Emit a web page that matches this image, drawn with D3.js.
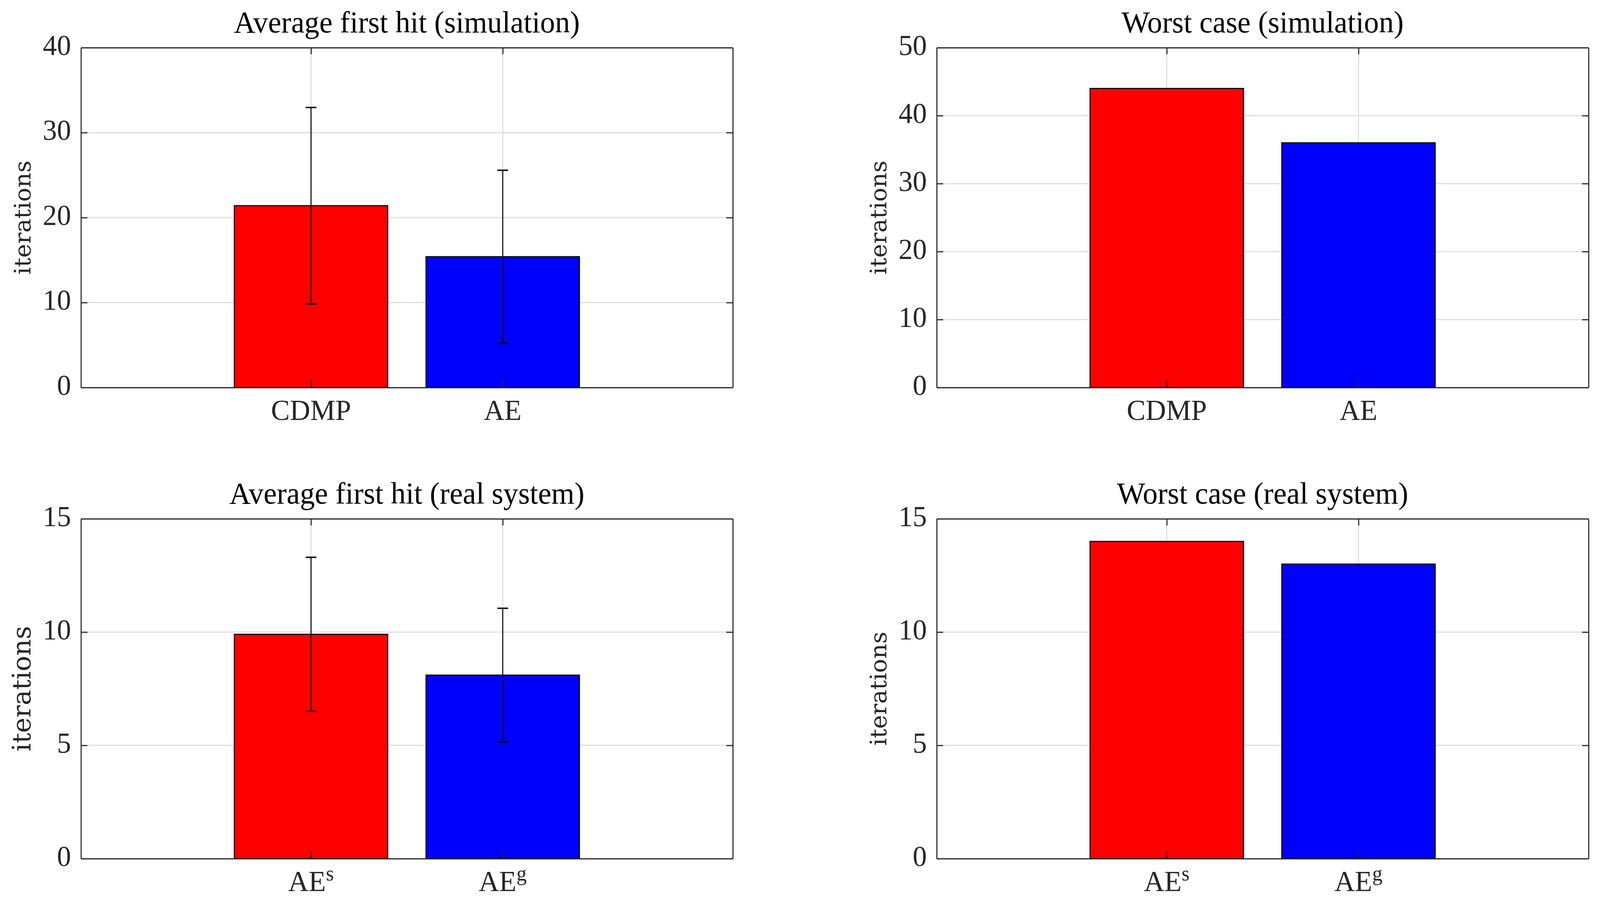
<!DOCTYPE html>
<html>
<head>
<meta charset="utf-8">
<script src="https://cdn.jsdelivr.net/npm/d3@7"></script>
<style>
  html, body { margin: 0; padding: 0; width: 100%; height: 100%; overflow: hidden; background: #fff; }
  #chart { width: 100%; height: 100%; }
  svg { display: block; }
</style>
</head>
<body>
<div id="chart"></div>
<script>
'use strict';

// data
var simCategories = ['CDMP', 'AE'];
var realCategories = [['AE', 's'], ['AE', 'g']];

var avgSimMean = [21.4, 15.4];
var avgSimErr = [11.56, 10.17];
var worstSimValues = [44, 36];

var avgRealMean = [9.9, 8.1];
var avgRealErr = [3.4, 2.95];
var worstRealValues = [14, 13];

var avgSimTicks = [0, 10, 20, 30, 40];
var worstSimTicks = [0, 10, 20, 30, 40, 50];
var realTicks = [0, 5, 10, 15];

var barColors = ['#ff0000', '#0000ff'];

var panels = [
  { title: 'Average first hit (simulation)', labels: simCategories, values: avgSimMean, errors: avgSimErr,
    ticks: avgSimTicks, ymax: 40, col: 0, row: 0, ylabelSize: 60 },
  { title: 'Worst case (simulation)', labels: simCategories, values: worstSimValues, errors: null,
    ticks: worstSimTicks, ymax: 50, col: 1, row: 0, ylabelSize: 60 },
  { title: 'Average first hit (real system)', labels: realCategories, values: avgRealMean, errors: avgRealErr,
    ticks: realTicks, ymax: 15, col: 0, row: 1, ylabelSize: 66 },
  { title: 'Worst case (real system)', labels: realCategories, values: worstRealValues, errors: null,
    ticks: realTicks, ymax: 15, col: 1, row: 1, ylabelSize: 60 }
];

var W = 4190, H = 2309;
var colX = [212, 2453];
var rowY = [122, 1328];
var plotW = 1707, plotH = 870;
var axisColor = '#262626';
var gridColor = '#dfdfdf';
var serif = '"Liberation Serif", "Times New Roman", serif';
var tickLen = 17;

// fit the whole figure into whatever viewport we get
var svg = d3.select('#chart').append('svg')
  .attr('width', '100%')
  .attr('height', '100%')
  .attr('viewBox', '0 0 ' + W + ' ' + H)
  .attr('preserveAspectRatio', 'none');

svg.append('rect')
  .attr('width', W)
  .attr('height', H)
  .attr('fill', 'white');

function drawPanel(p) {
  var g = svg.append('g')
    .attr('transform', 'translate(' + colX[p.col] + ',' + rowY[p.row] + ')');

  var x = d3.scaleLinear().domain([-0.2, 3.2]).range([0, plotW]);
  var y = d3.scaleLinear().domain([0, p.ymax]).range([plotH, 0]);
  var cats = [1, 2];
  var barW = x(0.8) - x(0);

  // grid
  g.append('g').selectAll('line.hgrid')
    .data(p.ticks.slice(1, -1))
    .enter().append('line')
    .attr('x1', 0).attr('x2', plotW)
    .attr('y1', function(d) { return y(d); })
    .attr('y2', function(d) { return y(d); })
    .attr('stroke', gridColor)
    .attr('stroke-width', 3);
  g.append('g').selectAll('line.vgrid')
    .data(cats)
    .enter().append('line')
    .attr('y1', 0).attr('y2', plotH)
    .attr('x1', function(d) { return x(d); })
    .attr('x2', function(d) { return x(d); })
    .attr('stroke', gridColor)
    .attr('stroke-width', 3);

  // bars
  g.append('g').selectAll('rect')
    .data(p.values)
    .enter().append('rect')
    .attr('x', function(d, i) { return x(cats[i]) - barW / 2; })
    .attr('y', function(d) { return y(d); })
    .attr('width', barW)
    .attr('height', function(d) { return plotH - y(d); })
    .attr('fill', function(d, i) { return barColors[i]; })
    .attr('stroke', 'black')
    .attr('stroke-width', 2.8);

  // error bars
  if (p.errors) {
    var capW = x(0.028) - x(0);
    var eb = g.append('g').selectAll('g')
      .data(p.values)
      .enter().append('g')
      .attr('stroke', 'black')
      .attr('stroke-width', 2.6);
    eb.append('line')
      .attr('x1', function(d, i) { return x(cats[i]); })
      .attr('x2', function(d, i) { return x(cats[i]); })
      .attr('y1', function(d, i) { return y(d - p.errors[i]); })
      .attr('y2', function(d, i) { return y(d + p.errors[i]); });
    eb.append('line')
      .attr('x1', function(d, i) { return x(cats[i]) - capW; })
      .attr('x2', function(d, i) { return x(cats[i]) + capW; })
      .attr('y1', function(d, i) { return y(d + p.errors[i]); })
      .attr('y2', function(d, i) { return y(d + p.errors[i]); })
      .attr('stroke-width', 3.5);
    eb.append('line')
      .attr('x1', function(d, i) { return x(cats[i]) - capW; })
      .attr('x2', function(d, i) { return x(cats[i]) + capW; })
      .attr('y1', function(d, i) { return y(d - p.errors[i]); })
      .attr('y2', function(d, i) { return y(d - p.errors[i]); })
      .attr('stroke-width', 3.5);
  }

  // axes with inward ticks on all four sides
  var yLeft = d3.axisLeft(y).tickValues(p.ticks).tickSizeInner(-tickLen).tickSizeOuter(0).tickFormat('');
  var yRight = d3.axisRight(y).tickValues(p.ticks).tickSizeInner(-tickLen).tickSizeOuter(0).tickFormat('');
  var xBottom = d3.axisBottom(x).tickValues(cats).tickSizeInner(-tickLen).tickSizeOuter(0).tickFormat('');
  var xTop = d3.axisTop(x).tickValues(cats).tickSizeInner(-tickLen).tickSizeOuter(0).tickFormat('');

  [[yLeft, 0, 0], [yRight, plotW, 0], [xBottom, 0, plotH], [xTop, 0, 0]].forEach(function(a) {
    var ax = g.append('g')
      .attr('transform', 'translate(' + a[1] + ',' + a[2] + ')')
      .call(a[0]);
    ax.selectAll('line, path')
      .attr('stroke', axisColor)
      .attr('stroke-width', 2.8);
  });

  // y tick labels
  g.append('g').selectAll('text')
    .data(p.ticks)
    .enter().append('text')
    .attr('x', -26)
    .attr('y', function(d) { return y(d) + 19; })
    .attr('text-anchor', 'end')
    .attr('font-family', serif)
    .attr('font-size', 74)
    .attr('fill', axisColor)
    .text(function(d) { return d; });

  // x tick labels
  var xl = g.append('g').selectAll('text')
    .data(p.labels)
    .enter().append('text')
    .attr('x', function(d, i) { return x(cats[i]); })
    .attr('y', plotH + 83)
    .attr('text-anchor', 'middle')
    .attr('font-family', serif)
    .attr('font-size', 74)
    .attr('fill', axisColor);
  xl.each(function(d) {
    var t = d3.select(this);
    if (typeof d === 'string') {
      t.text(d);
    } else {
      t.append('tspan').text(d[0]);
      t.append('tspan')
        .attr('font-size', 54)
        .attr('dy', -27)
        .text(d[1]);
    }
  });

  // title
  g.append('text')
    .attr('x', plotW / 2)
    .attr('y', -39)
    .attr('text-anchor', 'middle')
    .attr('font-family', serif)
    .attr('font-size', 78)
    .attr('fill', 'black')
    .text(p.title);

  // y label
  g.append('text')
    .attr('transform', 'translate(-132,' + (plotH / 2) + ') rotate(-90)')
    .attr('text-anchor', 'middle')
    .attr('font-family', '"DejaVu Serif", serif')
    .attr('font-size', p.ylabelSize)
    .attr('fill', axisColor)
    .text('iterations');
}

panels.forEach(drawPanel);
</script>
</body>
</html>
